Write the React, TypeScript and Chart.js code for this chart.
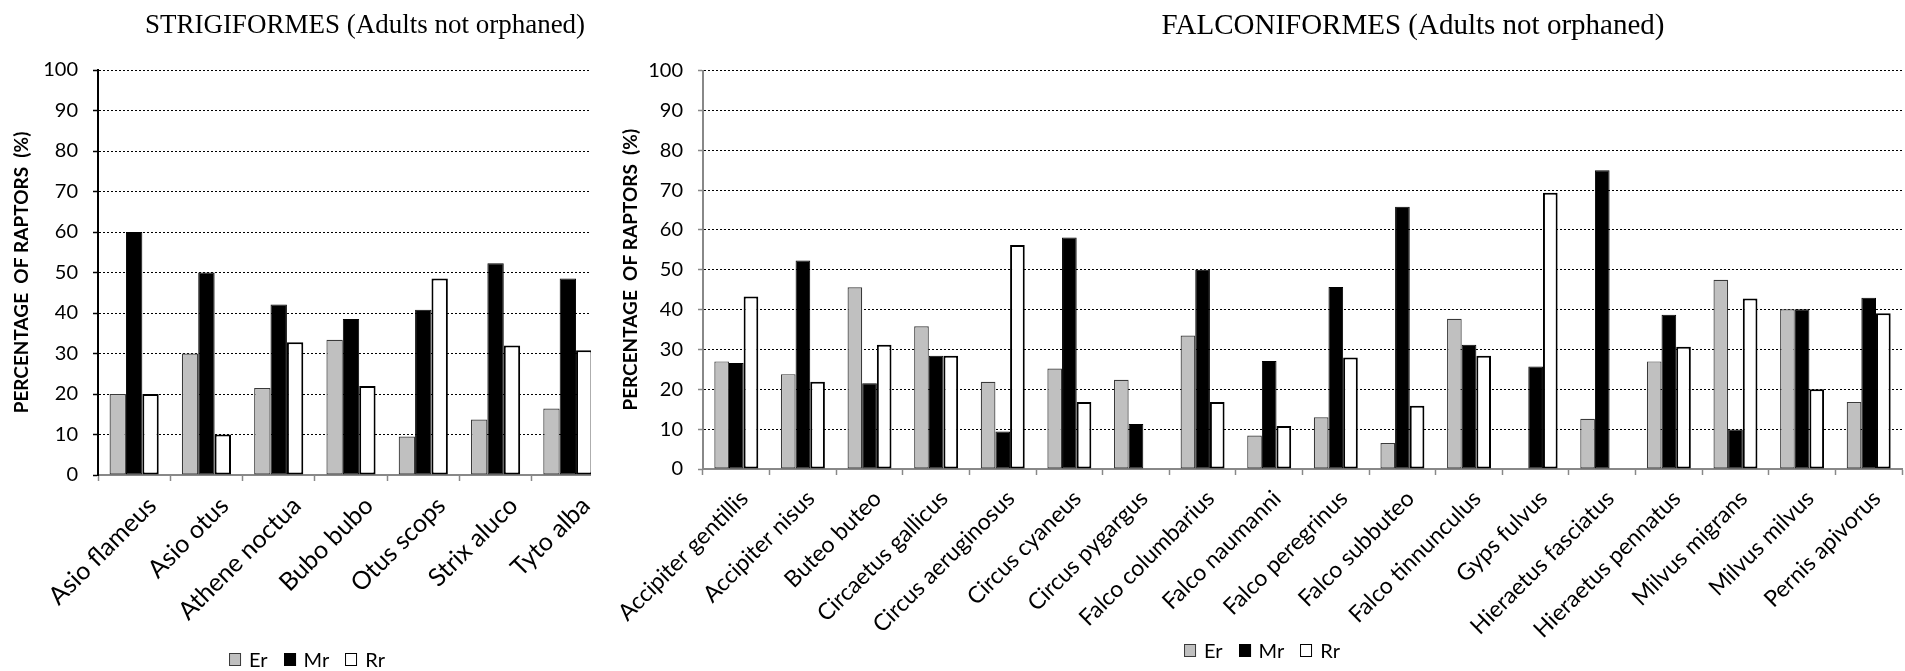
import React, { useEffect, useRef } from 'react';
import { Chart, registerables } from 'chart.js';

Chart.register(...registerables);

// ---------- DATA ----------
const seriesNames = ['Er', 'Mr', 'Rr'];

const strigTitle = 'STRIGIFORMES (Adults not orphaned)';
const strigCategories = ['Asio flameus', 'Asio otus', 'Athene noctua', 'Bubo bubo', 'Otus scops', 'Strix aluco', 'Tyto alba'];
const strigEr = [20, 30, 21.5, 33.4, 9.5, 13.7, 16.4];
const strigMr = [60, 50, 42.1, 38.5, 40.8, 52.3, 48.5];
const strigRr = [20, 10, 32.8, 22, 48.5, 32, 30.8];

const falcTitle = 'FALCONIFORMES (Adults not orphaned)';
const falcCategories = [
  'Accipiter gentillis', 'Accipiter nisus', 'Buteo buteo', 'Circaetus gallicus', 'Circus aeruginosus',
  'Circus cyaneus', 'Circus pygargus', 'Falco columbarius', 'Falco naumanni', 'Falco peregrinus',
  'Falco subbuteo', 'Falco tinnunculus', 'Gyps fulvus', 'Hieraetus fasciatus', 'Hieraetus pennatus',
  'Milvus migrans', 'Milvus milvus', 'Pernis apivorus',
];
const falcEr = [27.0, 23.8, 45.6, 35.8, 21.9, 25.2, 22.4, 33.5, 8.4, 13.0, 6.5, 37.7, 0, 12.6, 27.0, 47.5, 40.1, 16.8];
const falcMr = [26.6, 52.3, 21.5, 28.4, 9.4, 58.1, 11.3, 50.0, 27.1, 45.7, 65.8, 31.2, 25.7, 75.0, 38.7, 9.9, 40.1, 43.0];
const falcRr = [43.3, 21.9, 31.2, 28.4, 56.2, 16.8, 0, 16.8, 10.8, 28.0, 15.9, 28.4, 69.3, 0, 30.7, 42.8, 20.0, 39.1];

const yAxisTitle = 'PERCENTAGE  OF RAPTORS  (%)';
const yMin = 0;
const yMax = 100;
const yStep = 10;

// ---------- STYLE ----------
const fills = ['#c0c0c0', '#000000', '#ffffff'];
const borders = ['#3a3a3a', '#000000', '#000000'];
const borderWidths = [1.2, 1, 2];
const SANS = 'Lato, "Open Sans", sans-serif';

interface ChartProps {
  categories: string[];
  er: number[];
  mr: number[];
  rr: number[];
  width: number;
  height: number;
  padding: { top: number; left: number; right: number; bottom: number };
  yWidth: number;
  xHeight: number;
  yAxisColor: string;
  yTitlePad: number;
  catPct: number;
  xFont: number;
  xLabelOffset: number;
}

function BarChart(p: ChartProps) {
  const ref = useRef<HTMLCanvasElement | null>(null);
  useEffect(() => {
    if (!ref.current) return;
    const values = [p.er, p.mr, p.rr];
    const chart = new Chart(ref.current, {
      type: 'bar',
      data: {
        labels: p.categories,
        datasets: seriesNames.map((name, i) => ({
          label: name,
          data: values[i],
          backgroundColor: fills[i],
          borderColor: borders[i],
          borderWidth: borderWidths[i],
          borderSkipped: false,
          categoryPercentage: p.catPct,
          barPercentage: 1.0,
        })),
      },
      options: {
        responsive: false,
        animation: false,
        devicePixelRatio: 1,
        layout: { padding: p.padding },
        plugins: {
          legend: { display: false },
          title: { display: false },
          tooltip: { enabled: false },
        },
        scales: {
          x: {
            grid: {
              offset: true,
              drawOnChartArea: false,
              drawTicks: true,
              tickLength: 6,
              color: '#888888',
              tickColor: '#888888',
              tickWidth: 1.5,
            },
            border: { color: '#888888', width: 2 },
            ticks: {
              autoSkip: false,
              minRotation: 45,
              maxRotation: 45,
              padding: 10,
              labelOffset: p.xLabelOffset,
              color: '#000',
              font: { family: SANS, size: p.xFont },
            },
            afterFit: (s: any) => {
              s.height = p.xHeight;
            },
          },
          y: {
            min: yMin,
            max: yMax,
            ticks: {
              stepSize: yStep,
              padding: 15,
              color: '#000',
              font: { family: SANS, size: 20 },
            },
            grid: {
              color: '#000',
              lineWidth: 1,
              drawTicks: true,
              tickLength: 5,
              tickColor: p.yAxisColor,
              tickWidth: 1.5,
              tickBorderDash: [],
            },
            border: { color: p.yAxisColor, width: 2, dash: [2, 2] },
            title: {
              display: true,
              text: yAxisTitle,
              color: '#000',
              font: { family: SANS, size: 19, weight: 'bold' },
              padding: { top: p.yTitlePad, bottom: 0 },
            },
            afterFit: (s: any) => {
              s.width = p.yWidth;
            },
          },
        },
      } as any,
    });
    return () => chart.destroy();
  }, []);
  return <canvas ref={ref} width={p.width} height={p.height} style={{ width: p.width, height: p.height, display: 'block' }} />;
}

function Legend({ cx, cy }: { cx: number; cy: number }) {
  return (
    <div
      style={{
        position: 'absolute',
        left: cx,
        top: cy - 11,
        transform: 'translateX(-50%)',
        display: 'flex',
        alignItems: 'center',
        fontFamily: SANS,
        fontSize: 20,
        lineHeight: '22px',
        whiteSpace: 'nowrap',
        color: '#000',
      }}
    >
      {seriesNames.map((n, i) => (
        <div key={n} style={{ display: 'flex', alignItems: 'center', marginRight: i < seriesNames.length - 1 ? 16 : 0 }}>
          <div
            style={{
              width: 12,
              height: 13,
              boxSizing: 'border-box',
              background: fills[i],
              border: `1.5px solid ${i === 0 ? '#3a3a3a' : '#000'}`,
              marginRight: 8,
            }}
          />
          <span>{n}</span>
        </div>
      ))}
    </div>
  );
}

function Title({ text, cx, size }: { text: string; cx: number; size: number }) {
  return (
    <div
      style={{
        position: 'absolute',
        left: cx,
        top: 33,
        transform: 'translate(-50%, -80%)',
        fontFamily: '"Liberation Serif", "Times New Roman", serif',
        fontSize: size,
        lineHeight: `${size}px`,
        whiteSpace: 'nowrap',
        color: '#000',
      }}
    >
      {text}
    </div>
  );
}

export default function App() {
  return (
    <div style={{ position: 'absolute', left: 0, top: 0, width: 1905, height: 671, background: '#fff', overflow: 'hidden' }}>
      {/* Left chart, clipped on the right like the reference */}
      <div style={{ position: 'absolute', left: 0, top: 0, width: 591, height: 671, overflow: 'hidden' }}>
        <BarChart
          categories={strigCategories}
          er={strigEr}
          mr={strigMr}
          rr={strigRr}
          width={614}
          height={671}
          padding={{ top: 70, left: 0, right: 10, bottom: 0 }}
          yWidth={98}
          xHeight={196}
          yAxisColor="#000000"
          yTitlePad={10}
          catPct={0.68}
          xFont={25}
          xLabelOffset={18}
        />
      </div>
      <Title text={strigTitle} cx={365} size={27} />
      <Legend cx={307} cy={659} />

      {/* Right chart */}
      <div style={{ position: 'absolute', left: 600, top: 0, width: 1305, height: 671 }}>
        <BarChart
          categories={falcCategories}
          er={falcEr}
          mr={falcMr}
          rr={falcRr}
          width={1305}
          height={671}
          padding={{ top: 70.5, left: 0, right: 3, bottom: 0 }}
          yWidth={103}
          xHeight={202}
          yAxisColor="#888888"
          yTitlePad={19}
          catPct={0.66}
          xFont={23}
          xLabelOffset={8}
        />
      </div>
      <Title text={falcTitle} cx={1413} size={29} />
      <Legend cx={1262} cy={650} />
    </div>
  );
}
